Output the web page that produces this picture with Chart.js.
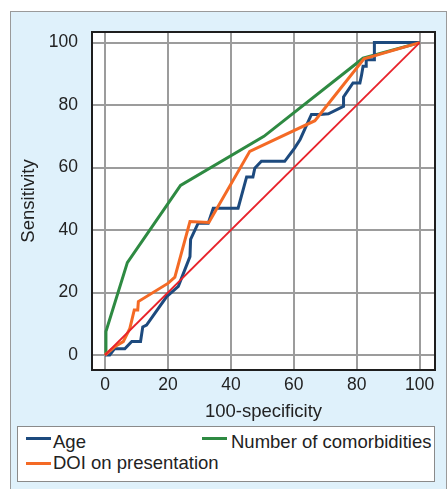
<!DOCTYPE html>
<html>
<head>
<meta charset="utf-8">
<script src="https://cdn.jsdelivr.net/npm/chart.js@4.4.1/dist/chart.umd.min.js"></script>
<style>
  html, body { margin: 0; padding: 0; background: #fff; }
  body { width: 448px; height: 489px; position: relative; overflow: hidden;
         font-family: "Liberation Sans", Arial, sans-serif; color: #222; }
  #panel { position: absolute; left: 10px; top: 11px; width: 437px; height: 480px;
           background: #dff1fb; border: 1px solid #9a9a9a; box-sizing: border-box; }
  #rocChart { position: absolute; left: 0; top: 0; }
  #legendBox { position: absolute; left: 17px; top: 426px; width: 418px; height: 56px;
               background: #fff; border: 1px solid #8a8a8a; box-sizing: border-box; }
  .swatch { position: absolute; width: 25px; height: 3px; }
  .lbl { position: absolute; font-size: 18.5px; line-height: 22px; white-space: nowrap; }
</style>
</head>
<body>
<div id="panel"></div>
<canvas id="rocChart" width="448" height="489"></canvas>
<div id="legendBox"></div>
<script>
  const xTicks = [0, 20, 40, 60, 80, 100];
  const yTicks = [0, 20, 40, 60, 80, 100];
  const seriesNames = ['Age', 'DOI on presentation', 'Number of comorbidities'];
  const seriesColors = ['#1d4a7e', '#f46a25', '#2e8a42'];

  // Age (step curve)
  const ageX = [0, 1.5, 3, 6.3, 8.5, 11.3, 12, 13.2, 19.6, 23.3, 27, 27.2, 29.6, 32.8, 34.4, 42.3, 45, 47, 47.6, 49.7, 57.1, 60.3, 62, 65.6, 68.3, 71, 75.8, 75.8, 78.8, 81, 81.5, 82, 83, 83, 85.6, 85.6, 100];
  const ageY = [0, 0, 2, 2, 4.3, 4.3, 9, 9.6, 18.7, 22, 31.5, 37, 42.2, 42.2, 47, 47, 57, 57, 59.8, 62, 62, 66.3, 69, 77, 77, 77.2, 79.6, 82.6, 87.1, 87.1, 89.5, 92.4, 92.4, 94.5, 94.5, 100, 100];

  // DOI on presentation
  const doiX = [0, 3.2, 5.8, 7.9, 9.3, 10.4, 10.6, 20.1, 22.2, 27, 33, 46, 66.7, 82.3, 100];
  const doiY = [0, 2.7, 4.3, 8.5, 14.4, 14.4, 17.1, 23, 24.9, 42.7, 42.4, 65.2, 75, 94.8, 100];

  // Number of comorbidities
  const comorbX = [0.3, 0.3, 7.1, 24, 50.5, 82, 100];
  const comorbY = [0, 7.5, 29.6, 54.3, 70, 95, 100];

  // reference diagonal
  const refX = [0, 100];
  const refY = [0, 100];

  const pts = (xs, ys) => xs.map((x, i) => ({ x: x, y: ys[i] }));

  const plotFrame = {
    id: 'plotFrame',
    beforeDraw(chart) {
      const { ctx, chartArea: a } = chart;
      ctx.save();
      ctx.fillStyle = '#fff';
      ctx.fillRect(a.left, a.top, a.width, a.height);
      ctx.restore();
    },
    afterDraw(chart) {
      const { ctx, chartArea: a } = chart;
      ctx.save();
      ctx.strokeStyle = '#1e1e1e';
      ctx.lineWidth = 2;
      ctx.strokeRect(a.left, a.top, a.width, a.height);
      ctx.restore();
    }
  };

  const lineSet = (label, data, color, width) => ({
    label: label,
    data: data,
    borderColor: color,
    borderWidth: width,
    pointRadius: 0,
    fill: false,
    tension: 0
  });

  const tickFont = { family: '"Liberation Sans", Arial, sans-serif', size: 17.5 };
  const titleFont = { family: '"Liberation Sans", Arial, sans-serif', size: 18.5 };

  new Chart(document.getElementById('rocChart'), {
    type: 'line',
    data: {
      datasets: [
        lineSet('Reference', pts(refX, refY), '#e8232b', 1.8),
        lineSet(seriesNames[1], pts(doiX, doiY), seriesColors[1], 3),
        lineSet(seriesNames[0], pts(ageX, ageY), seriesColors[0], 3),
        lineSet(seriesNames[2], pts(comorbX, comorbY), seriesColors[2], 3)
      ]
    },
    options: {
      responsive: false,
      animation: false,
      devicePixelRatio: 1,
      layout: { padding: { left: 0, top: 32, right: 13, bottom: 66 } },
      plugins: { legend: { display: false }, tooltip: { enabled: false } },
      scales: {
        x: {
          type: 'linear',
          min: -4.13,
          max: 104.86,
          afterBuildTicks: (s) => { s.ticks = xTicks.map(v => ({ value: v })); },
          afterFit: (s) => { s.height = 53; },
          ticks: { font: tickFont, color: '#222', padding: 4.5, maxRotation: 0 },
          grid: { color: '#9c9c9c', lineWidth: 2, drawTicks: false },
          border: { display: false },
          title: { display: true, text: '100-specificity', font: titleFont, color: '#222', padding: { top: 0, bottom: 0 } }
        },
        y: {
          type: 'linear',
          min: -4.8,
          max: 103.4,
          afterBuildTicks: (s) => { s.ticks = yTicks.map(v => ({ value: v })); },
          afterFit: (s) => { s.width = 92; },
          ticks: { font: tickFont, color: '#222', padding: 14 },
          grid: { color: '#9c9c9c', lineWidth: 2, drawTicks: false },
          border: { display: false },
          title: { display: true, text: 'Sensitivity', font: titleFont, color: '#222', padding: { top: 17.5, bottom: 0 } }
        }
      }
    },
    plugins: [plotFrame]
  });

  // legend box (two columns, as in the figure)
  const legendBox = document.getElementById('legendBox');
  const legendSpots = [
    { line: [8, 9.5], text: [35, 4] },
    { line: [8, 34.5], text: [35, 25] },
    { line: [184, 9.5], text: [213, 4] }
  ];
  seriesNames.forEach((name, i) => {
    const sw = document.createElement('div');
    sw.className = 'swatch';
    sw.style.left = legendSpots[i].line[0] + 'px';
    sw.style.top = legendSpots[i].line[1] + 'px';
    sw.style.background = seriesColors[i];
    legendBox.appendChild(sw);
    const t = document.createElement('div');
    t.className = 'lbl';
    t.style.left = legendSpots[i].text[0] + 'px';
    t.style.top = legendSpots[i].text[1] + 'px';
    t.textContent = name;
    legendBox.appendChild(t);
  });
</script>
</body>
</html>
